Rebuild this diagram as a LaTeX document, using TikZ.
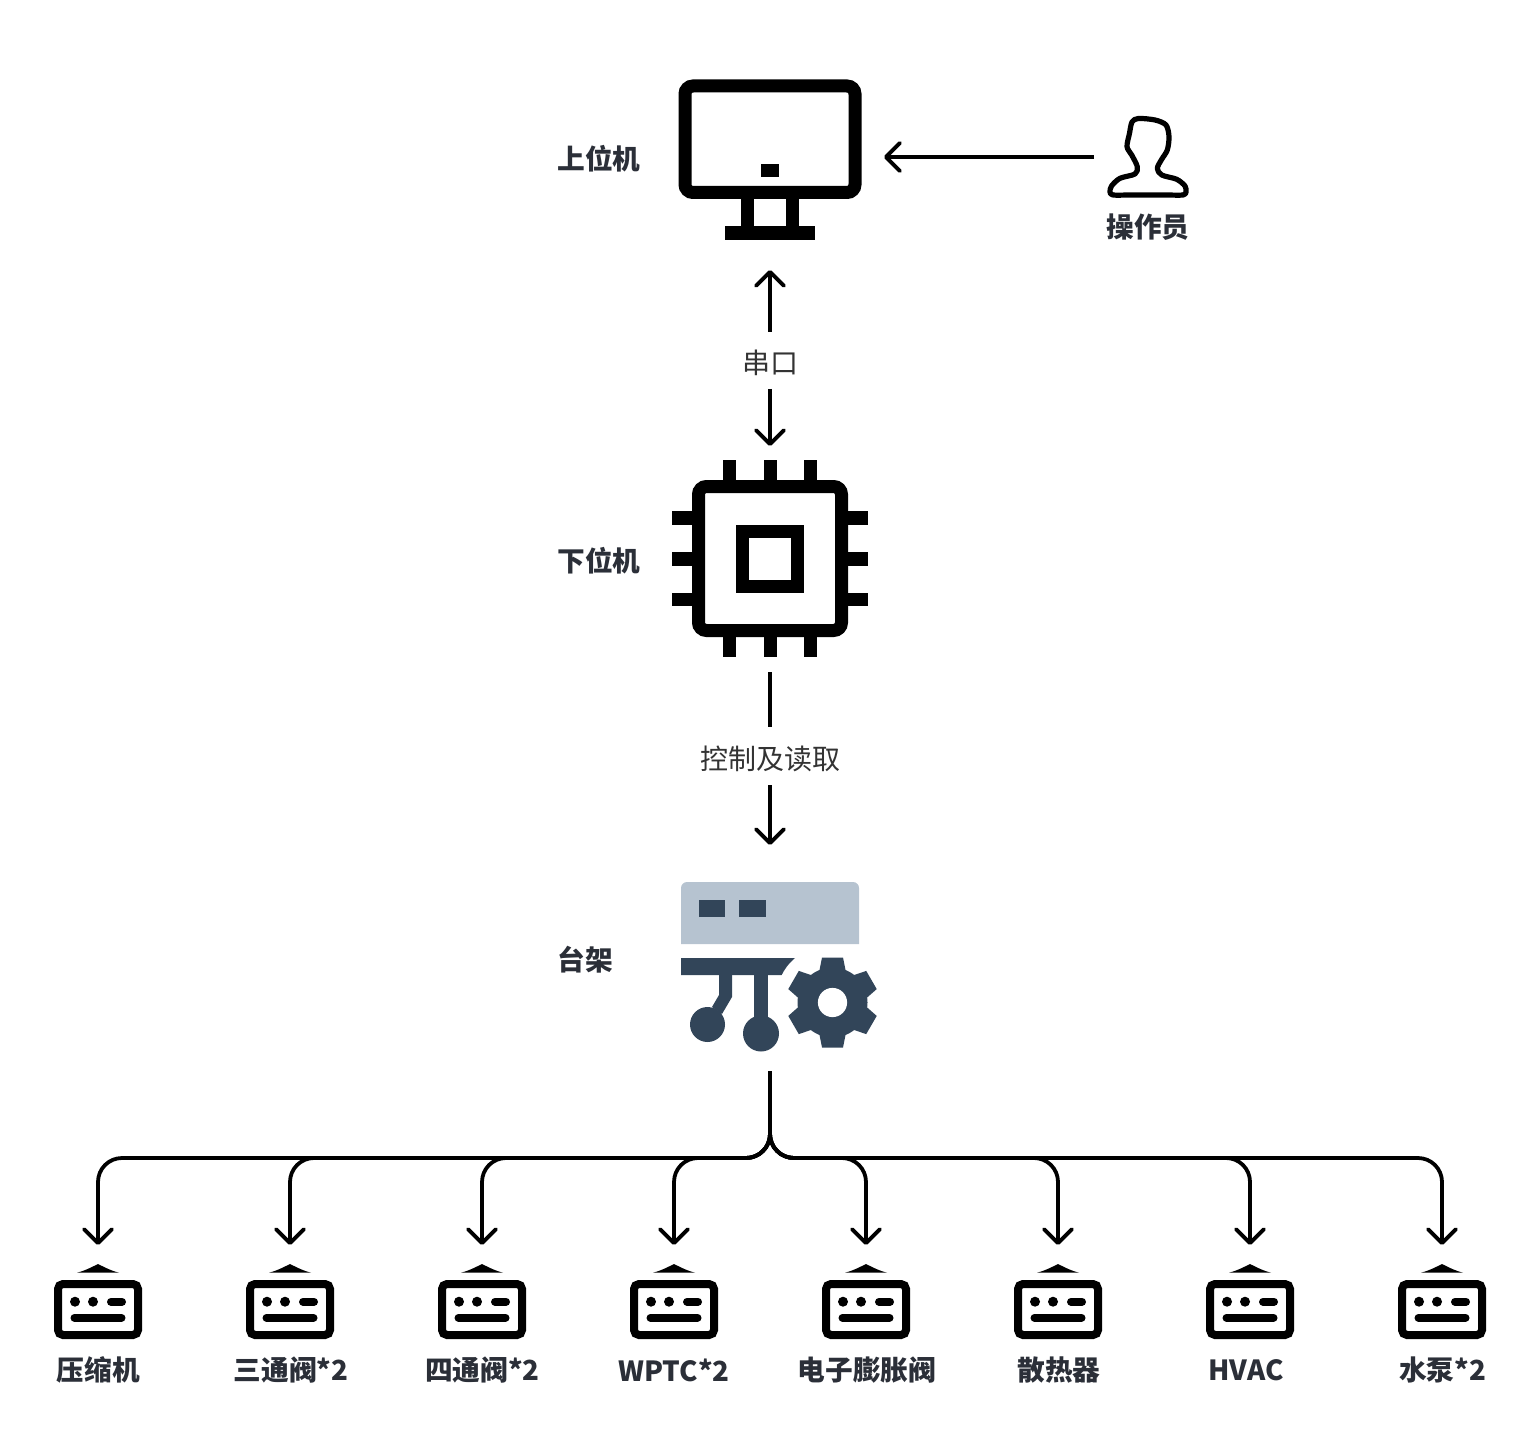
\documentclass[tikz,border=0pt]{standalone}
\usepackage{fontspec}
\setmainfont{Noto Sans CJK SC}
\usetikzlibrary{arrows.meta}
\definecolor{inkdark}{HTML}{2B2F38}
\definecolor{inkreg}{HTML}{333333}
\definecolor{rackdark}{HTML}{324559}
\definecolor{racklight}{HTML}{B6C3D0}
\tikzset{
  x=0.5pt,y=-0.5pt,
  boldlabel/.style={font=\fontsize{13.85pt}{16pt}\selectfont\bfseries,text=inkdark,inner sep=0pt},
  reglabel/.style={font=\fontsize{14pt}{16pt}\selectfont,text=inkreg,inner sep=0pt},
  slot/.style={inner sep=0pt,outer sep=0pt},
  conn/.style={line width=1.9pt,line join=round,line cap=butt},
  arr/.style={conn,-{Straight Barb[length=7pt,width=14pt,line cap=round,line join=round]}},
  icon/.style={line width=6.5pt,draw=black},
  thinicon/.style={line width=4pt,draw=black}
}
\begin{document}
\begin{tikzpicture}
\useasboundingbox (0,0) rectangle (1540,1438);
% slots that hold the icons and connector ends
\node[slot,minimum width=114pt,minimum height=110pt] (pc) at (770,160) {};
\node[slot,minimum width=54pt,minimum height=30pt] (user) at (1148,157) {};
\node[slot,minimum width=100pt,minimum height=113pt] (chip) at (770,559) {};
\node[slot,minimum width=100pt,minimum height=113pt] (rack) at (770,958) {};
\coordinate (bus) at (770,1158);
% monitor
\draw[icon,rounded corners=4pt] (685,86) rectangle (855,192.5);
\fill (761,164) rectangle (779,177);
\fill (741,199) rectangle (754,226);
\fill (786,199) rectangle (799,226);
\fill (725,226) rectangle (815,240);
% operator
\draw[line width=2.6pt,line join=round] plot[smooth cycle,tension=0.5] coordinates {
 (1113,195) (1130,195) (1148,195) (1166,195) (1183,195) (1186,192) (1185,186) (1176.7,179.3) (1161.7,175) (1157.3,168.3) (1161.7,159.3)
 (1167.3,150) (1169,136.7) (1166,125) (1155,120) (1138.3,118.5) (1132,122) (1129.5,133.3) (1127,146.7)
 (1131.7,155) (1137.3,166.7) (1135,174) (1120,178.3) (1111.5,186) (1110,192)};
% chip
\draw[icon,rounded corners=4pt] (698.5,486.5) rectangle (841.5,630.5);
\draw[icon] (742.5,531.5) rectangle (797.5,586.5);
\foreach \px in {723,763.5,804}{
  \fill (\px,460) rectangle ++(13,20);
  \fill (\px,637) rectangle ++(13,20);
}
\foreach \py in {511,552,592.5}{
  \fill (671.5,\py) rectangle ++(20.5,13.5);
  \fill (848,\py) rectangle ++(20,13.5);
}
% test stand
\fill[racklight] (681,944) [rounded corners=3pt] -- (681,882) -- (859,882) [sharp corners] -- (859,944) -- cycle;
\fill[rackdark] (699,900) rectangle (725,917);
\fill[rackdark] (739,900) rectangle (766,917);
\fill[rackdark] (681,958) -- (795,958) .. controls (788,964) and (784,970) .. (781.7,975) -- (681,975) -- cycle;
\fill[rackdark] (719,975) -- (732,975) -- (732,997) -- (722,1014) -- (712,1007) -- (719,995) -- cycle;
\fill[rackdark] (707.5,1024.5) circle[radius=8.75pt];
\fill[rackdark] (754,975) rectangle (768,1025);
\fill[rackdark] (761,1033.5) circle[radius=9pt];
\fill[rackdark] (832.5,1002.5) circle[radius=17.5pt];
\foreach \ang in {0,60,...,300}{
  \fill[rackdark,shift={(832.5,1002.5)},rotate=\ang] (-13.5,-30) -- (-10.5,-45) -- (10.5,-45) -- (13.5,-30) -- cycle;
}
\fill[white] (832.5,1002.5) circle[radius=7.3pt];
% connectors of the upper part
\node[slot,reglabel,minimum height=28.5pt] (serial) at (770,360.5) {\raisebox{-1pt}[\height][\depth]{串口}};
\node[slot,reglabel,minimum height=29pt] (ctrl) at (770,756) {\raisebox{-1.25pt}[\height][\depth]{控制及读取}};
\draw[arr] (user.west) -- (user.west -| pc.east);
\draw[arr] (serial.north) -- (pc.south);
\draw[arr] (serial.south) -- (chip.north);
\draw[conn] (chip.south) -- (ctrl.north);
\draw[arr] (ctrl.south) -- (rack.north);
% labels
\node[boldlabel] (lpc) at (599,159) {上位机};
\node[boldlabel] (lchip) at (599,561) {下位机};
\node[boldlabel] (lrack) at (585,960) {台架};
\node[boldlabel] (luser) at (1148,227) {操作员};
% devices
\foreach \i/\cx/\lx/\txt in {1/98/98.5/压缩机,2/290/291/三通阀*2,3/482/482.5/四通阀*2,4/674/674/WPTC*2,5/866/867/电子膨胀阀,6/1058/1059/散热器,7/1250/1246/HVAC,8/1442/1442.5/水泵*2}{
  \node[slot,minimum width=44pt,minimum height=47pt] (dev\i) at (\cx,1292) {};
  \draw[arr,rounded corners=12pt] (rack.south) -- (bus) -- (bus -| dev\i.north) -- (dev\i.north);
  \begin{scope}[shift={(\cx,0)}]
    \fill (0,1264) .. controls (-8,1268) and (-14,1271) .. (-21,1272.7) -- (21,1272.7) .. controls (14,1271) and (8,1268) .. (0,1264) -- cycle;
    \draw[thinicon,rounded corners=2.5pt] (-40,1284) rectangle (40,1335);
    \fill (-23,1301.7) circle[radius=2.5pt];
    \fill (-5,1301.7) circle[radius=2.5pt];
    \draw[line width=4pt,line cap=round] (13,1301.7) -- (24,1301.7);
    \draw[line width=4pt,line cap=round] (-23.5,1317.7) -- (23.5,1317.7);
  \end{scope}
  \node[boldlabel] (lab\i) at (\lx,1370) {\txt};
}
\end{tikzpicture}
\end{document}
